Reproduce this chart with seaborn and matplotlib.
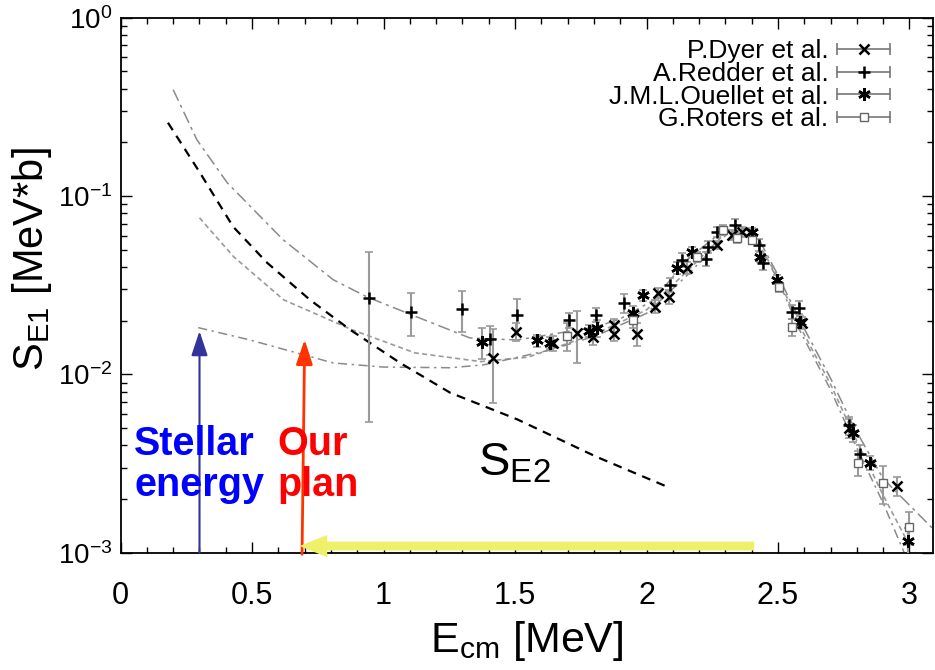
import matplotlib
matplotlib.use("Agg")
import matplotlib.pyplot as plt
import seaborn as sns
from matplotlib.lines import Line2D
from matplotlib.legend_handler import HandlerLine2D, HandlerTuple
from matplotlib.ticker import MultipleLocator, LogLocator

# ==================== DATA ====================
# experimental points: x = E_cm [MeV], y = S_E1 [MeV*b], err = abs. error
dyer_x = [1.416, 1.505, 1.646, 1.737, 1.797, 1.876, 1.876, 1.965, 2.033, 2.045, 2.087,
          2.155, 2.268, 2.325, 2.363, 2.59, 2.77, 2.953]
dyer_y = [0.0124, 0.0173, 0.015, 0.0171, 0.0162, 0.0189, 0.0168, 0.0169, 0.024, 0.0287, 0.0272,
          0.0396, 0.0533, 0.0607, 0.063, 0.0195, 0.0050, 0.00237]
dyer_err = [0.0055, 0.002, 0.0015, 0.0055, 0.0015, 0.0015, 0.0015, 0.0025, 0.002, 0.002, 0.0025,
            0.003, 0.003, 0.004, 0.004, 0.0015, 0.0006, 0.0003]

redder_x = [0.943, 1.103, 1.30, 1.405, 1.508, 1.707, 1.808, 1.915, 2.09, 2.135, 2.227, 2.235,
            2.268, 2.337, 2.428, 2.443, 2.555, 2.58, 2.77, 2.81]
redder_y = [0.0269, 0.0225, 0.0233, 0.0158, 0.0216, 0.0202, 0.0216, 0.0252, 0.0318, 0.044, 0.0443, 0.052,
            0.063, 0.069, 0.0533, 0.0423, 0.0225, 0.0237, 0.0052, 0.0036]
redder_err = [0.0215, 0.006, 0.006, 0.003, 0.005, 0.002, 0.002, 0.003, 0.003, 0.004, 0.004, 0.004,
              0.004, 0.005, 0.004, 0.004, 0.002, 0.002, 0.0006, 0.0004]

ouellet_x = [1.375, 1.584, 1.634, 1.783, 1.81, 1.95, 1.985, 2.116, 2.174, 2.40, 2.432, 2.498,
             2.583, 2.785, 2.85, 2.995]
ouellet_y = [0.0152, 0.0155, 0.015, 0.0175, 0.0182, 0.0221, 0.0279, 0.0396, 0.0487, 0.063, 0.0455, 0.034,
             0.0197, 0.0047, 0.0032, 0.00117]
ouellet_err = [0.003, 0.0012, 0.0012, 0.0015, 0.002, 0.002, 0.002, 0.003, 0.003, 0.003, 0.003, 0.002,
               0.0015, 0.0005, 0.0003, 0.0002]

roters_x = [1.697, 1.95, 2.193, 2.29, 2.344, 2.40, 2.502, 2.555, 2.804, 2.9, 3.0]
roters_y = [0.0165, 0.0202, 0.0455, 0.0646, 0.0583, 0.0569, 0.031, 0.0185, 0.0032, 0.00247, 0.0014]
roters_err = [0.003, 0.002, 0.003, 0.004, 0.004, 0.003, 0.002, 0.002, 0.0005, 0.0006, 0.0003]

# R-matrix fits (three gray curves)
fit_a_x = [0.20, 0.29, 0.405, 0.618, 0.808, 0.937, 1.127, 1.329, 1.508, 1.81, 1.90, 2.025,
           2.155, 2.255, 2.33, 2.41, 2.5, 2.58, 2.70, 2.785, 2.9, 3.09]
fit_a_y = [0.395, 0.207, 0.119, 0.0569, 0.034, 0.0272, 0.021, 0.016, 0.0156, 0.0185, 0.0205, 0.026,
           0.044, 0.058, 0.067, 0.064, 0.036, 0.0205, 0.0095, 0.0052, 0.0026, 0.00136]

fit_b_x = [0.30, 0.43, 0.62, 0.88, 1.12, 1.37, 1.55, 1.81, 2.0, 2.155, 2.3, 2.4,
           2.5, 2.58, 2.70, 2.785, 2.9, 3.0]
fit_b_y = [0.0755, 0.0457, 0.0262, 0.0178, 0.0132, 0.0118, 0.0125, 0.017, 0.023, 0.038, 0.062, 0.063,
           0.035, 0.019, 0.0088, 0.0047, 0.0021, 0.0011]

fit_c_x = [0.295, 0.492, 0.808, 0.998, 1.253, 1.378, 1.633, 1.81, 2.0, 2.155, 2.3, 2.4,
           2.5, 2.58, 2.70, 2.785, 2.9, 2.98]
fit_c_y = [0.0183, 0.0156, 0.0116, 0.011, 0.0109, 0.0113, 0.0137, 0.0165, 0.022, 0.036, 0.06, 0.062,
           0.034, 0.018, 0.0082, 0.0043, 0.0019, 0.001]

# S_E2 curve
se2_x = [0.18, 0.302, 0.428, 0.557, 0.72, 0.873, 1.063, 1.253, 1.508, 1.81, 2.08]
se2_y = [0.258, 0.135, 0.0673, 0.0423, 0.0262, 0.0178, 0.0116, 0.0079, 0.0056, 0.00345, 0.00234]

# annotation arrows (start -> end)
stellar_arrow = [(0.30, 0.001), (0.30, 0.0175)]
plan_arrow = [(0.69, 0.00098), (0.70, 0.0157)]
range_arrow = [(2.41, 0.00109), (0.68, 0.00109)]

xticks = [0, 0.5, 1, 1.5, 2, 2.5, 3]
xtick_labels = ["0", "0.5", "1", "1.5", "2", "2.5", "3"]
yticks = [1e-3, 1e-2, 1e-1, 1]
ytick_labels = [r"$10^{-3}$", r"$10^{-2}$", r"$10^{-1}$", r"$10^{0}$"]

labels = ["P.Dyer et al.", "A.Redder et al.", "J.M.L.Ouellet et al.", "G.Roters et al."]

# ==================== STYLE ====================
sns.set_theme(style="ticks")
plt.rcParams["font.family"] = ["Liberation Sans", "DejaVu Sans"]
plt.rcParams["mathtext.fontset"] = "custom"
plt.rcParams["mathtext.rm"] = "Liberation Sans"
plt.rcParams["mathtext.it"] = "Liberation Sans:italic"
plt.rcParams["mathtext.bf"] = "Liberation Sans:bold"
plt.rcParams["text.color"] = "black"
plt.rcParams["axes.labelcolor"] = "black"

fig = plt.figure(figsize=(9.35, 6.7), dpi=100)
ax = fig.add_axes([0.129, 0.175, 0.869, 0.7985])
ax.set_yscale("log")

# ==================== CURVES ====================
sns.lineplot(x=fit_a_x, y=fit_a_y, ax=ax, color="#8a8a8a", lw=1.1, estimator=None, sort=False,
             linestyle=(0, (8, 3, 2, 3)))
sns.lineplot(x=fit_b_x, y=fit_b_y, ax=ax, color="#9a9a9a", lw=1.2, estimator=None, sort=False,
             linestyle=(0, (3, 2)))
sns.lineplot(x=fit_c_x, y=fit_c_y, ax=ax, color="#8a8a8a", lw=1.1, estimator=None, sort=False,
             linestyle=(0, (6, 3, 1.5, 3)))
sns.lineplot(x=se2_x, y=se2_y, ax=ax, color="black", lw=1.6, estimator=None, sort=False,
             linestyle=(0, (4, 3)))

# ==================== DATA POINTS ====================
sets = [
    (dyer_x, dyer_y, dyer_err, dict(marker="x", color="black", ms=7, mew=1.8)),
    (redder_x, redder_y, redder_err, dict(marker="+", color="black", ms=9, mew=1.8)),
    (ouellet_x, ouellet_y, ouellet_err, dict(marker=(6, 2, 0), color="black", ms=9, mew=1.8)),
    (roters_x, roters_y, roters_err, dict(marker="s", mfc="white", mec="#666666", ms=6, mew=1.0, color="#666666")),
]
for sx, sy, se, mk in sets:
    ax.errorbar(sx, sy, yerr=se, fmt="none", ecolor="#9a9a9a", elinewidth=1.5, capsize=3, capthick=1.2, zorder=3)
    ax.plot(sx, sy, ls="none", zorder=4, **mk)

# ==================== ARROWS & TEXT ====================
ax.annotate("", xy=stellar_arrow[1], xytext=stellar_arrow[0],
            arrowprops=dict(arrowstyle="-|>,head_length=0.75,head_width=0.25", color="#333399",
                            lw=1.5, mutation_scale=20, shrinkA=0, shrinkB=0), annotation_clip=False)
ax.annotate("", xy=plan_arrow[1], xytext=plan_arrow[0],
            arrowprops=dict(arrowstyle="-|>,head_length=0.75,head_width=0.25", color="#ff3300",
                            lw=2, mutation_scale=20, shrinkA=0, shrinkB=0), annotation_clip=False)
ax.annotate("", xy=range_arrow[1], xytext=range_arrow[0],
            arrowprops=dict(arrowstyle="simple,tail_width=0.32,head_width=0.8,head_length=1.0",
                            color="#eef06a", lw=0, mutation_scale=20, shrinkA=0, shrinkB=0))

ax.text(0.051, 0.0052, "Stellar\nenergy", color="#0000ff", fontsize=28.5, fontweight="bold",
        va="top", ha="left", linespacing=1.1)
ax.text(0.595, 0.0052, "Our\nplan", color="#ff0000", fontsize=28.5, fontweight="bold",
        va="top", ha="left", linespacing=1.1)
ax.text(1.36, 0.00272, r"S$_{\mathrm{E2}}$", color="black", fontsize=34, va="baseline", ha="left")

# ==================== AXES ====================
ax.set_xlim(0, 3.09)
ax.set_ylim(1e-3, 1)
ax.set_xticks(xticks)
ax.set_xticklabels(xtick_labels)
ax.set_yticks(yticks)
ax.set_yticklabels(ytick_labels)
ax.xaxis.set_minor_locator(MultipleLocator(0.1))
ax.yaxis.set_minor_locator(LogLocator(base=10, subs=range(2, 10)))
ax.tick_params(which="both", direction="in", top=True, right=True, colors="black", width=1)
ax.tick_params(which="major", length=8)
ax.tick_params(axis="x", which="major", pad=20, labelsize=22)
ax.tick_params(axis="y", which="major", pad=6, labelsize=20)
ax.tick_params(which="minor", length=4)
ax.yaxis.set_tick_params(which="minor", labelleft=False)
for sp in ax.spines.values():
    sp.set_color("black")
    sp.set_linewidth(1.3)

ax.set_xlabel(r"E$_{\mathrm{cm}}$ [MeV]", fontsize=31, labelpad=6)
ax.set_ylabel(r"S$_{\mathrm{E1}}$ [MeV*b]", fontsize=30)
ax.yaxis.set_label_coords(-0.082, 0.548)

# ==================== LEGEND ====================
handles, hmap = [], {}
for _, _, _, mk in sets:
    cap = Line2D([], [], color="#777777", lw=1.2, marker="|", ms=8, mew=1.2)
    mark = Line2D([], [], ls="none", **mk)
    hmap[cap] = HandlerLine2D(numpoints=2)
    hmap[mark] = HandlerLine2D(numpoints=1)
    handles.append((cap, mark))
hmap[tuple] = HandlerTuple(ndivide=1)
ax.legend(handles, labels, handler_map=hmap, loc="upper right", bbox_to_anchor=(0.957, 0.96),
          frameon=False, markerfirst=False, fontsize=19, handlelength=2.6, handletextpad=0.05,
          labelspacing=-0.05, borderpad=0, borderaxespad=0, labelcolor="black")

fig.savefig("out.png", dpi=100)
